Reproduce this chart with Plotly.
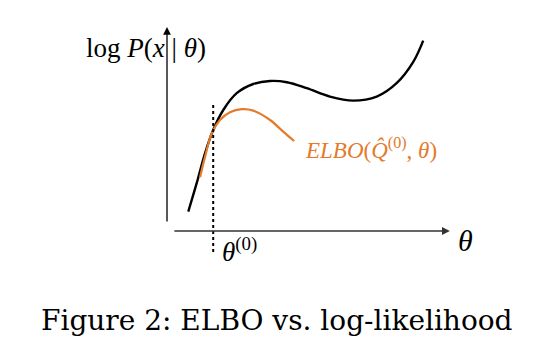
import plotly.graph_objects as go

# --- data (theta, value) ---
theta_loglik = [0.76, 1.06, 1.36, 1.65, 2.01, 2.49, 3.08, 3.68, 4.28, 4.99, 5.82, 6.65, 7.49, 8.20, 8.80, 9.15]
loglik = [0.97, 2.39, 3.90, 5.05, 6.05, 6.89, 7.35, 7.50, 7.44, 7.14, 6.72, 6.52, 6.72, 7.39, 8.47, 9.52]

theta_elbo = [1.18, 1.36, 1.60, 1.89, 2.25, 2.67, 3.08, 3.68, 4.15, 4.54]
elbo = [2.69, 3.72, 4.89, 5.55, 5.94, 6.09, 6.02, 5.55, 4.97, 4.50]

theta0 = 1.65

W, H = 534, 346
# pixel mapping: origin of axes at (167, 231); 28 px per theta unit, 20 px per value unit
X0, Y0, SX, SY = 167, 231, 28, 20
xr = [-X0 / SX, (W - X0) / SX]
yr = [(Y0 - H) / SY, Y0 / SY]

ORANGE = "#E37B2B"
SERIF = "Liberation Serif, Times New Roman, serif"
CAPTION_FONT = "DejaVu Serif, serif"

fig = go.Figure()
fig.add_trace(go.Scatter(x=theta_loglik, y=loglik, mode="lines",
                         line=dict(color="black", width=2.4, shape="spline", smoothing=1.0),
                         hoverinfo="skip", showlegend=False))
fig.add_trace(go.Scatter(x=theta_elbo, y=elbo, mode="lines",
                         line=dict(color=ORANGE, width=2.2, shape="spline", smoothing=1.0),
                         hoverinfo="skip", showlegend=False))

# dashed vertical line at theta0
fig.add_shape(type="line", x0=theta0, x1=theta0, y0=-1.05, y1=6.4,
              line=dict(color="black", width=2, dash="dot"))

# axes with arrows
fig.add_annotation(x=0, y=10.2, ax=0, ay=0.4, xref="x", yref="y", axref="x", ayref="y",
                   showarrow=True, arrowhead=2, arrowsize=1.2, arrowwidth=1.3,
                   arrowcolor="black", text="")
fig.add_annotation(x=10.1, y=0, ax=0.21, ay=0, xref="x", yref="y", axref="x", ayref="y",
                   showarrow=True, arrowhead=2, arrowsize=1.2, arrowwidth=1.3,
                   arrowcolor="#333333", text="")

def px(x):
    return x / W

def py(y):
    return 1 - y / H

texts = [
    ("log <i>P</i>(<i>x</i> | <i>θ</i>)", 146, 48, 27, "black"),
    ("<i>θ</i>", 465, 240, 30, "black"),
    ("<i>θ</i><sup>(0)</sup>", 239, 250, 27, "black"),
    ("<i>ELBO</i>(<i>Q̂</i><sup>(0)</sup>, <i>θ</i>)", 371, 148, 23, ORANGE),
]
for t, x, y, s, c in texts:
    fig.add_annotation(x=px(x), y=py(y), xref="paper", yref="paper", text=t,
                       showarrow=False, xanchor="center", yanchor="middle",
                       font=dict(family=SERIF, size=s, color=c))

fig.add_annotation(x=px(277), y=py(320), xref="paper", yref="paper",
                   text="Figure 2: ELBO vs. log-likelihood", showarrow=False,
                   xanchor="center", yanchor="middle",
                   font=dict(family=CAPTION_FONT, size=28, color="black"))

fig.update_xaxes(range=xr, visible=False, fixedrange=True)
fig.update_yaxes(range=yr, visible=False, fixedrange=True)
fig.update_layout(width=W, height=H, margin=dict(l=0, r=0, t=0, b=0),
                  plot_bgcolor="white", paper_bgcolor="white")

fig.write_html("out.html", config={"displayModeBar": False})
